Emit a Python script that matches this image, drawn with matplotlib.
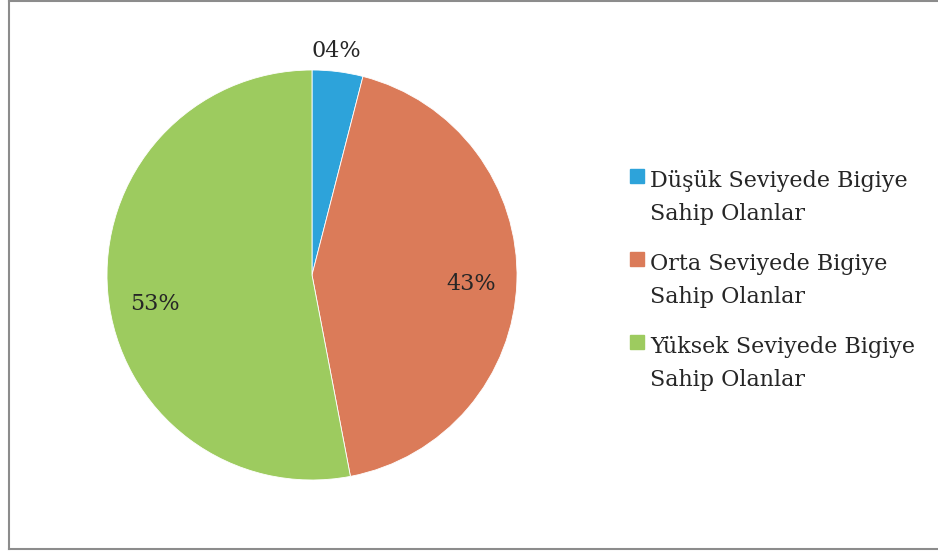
import matplotlib
matplotlib.use('Agg')
import matplotlib.pyplot as plt
import numpy as np
from matplotlib.patches import Rectangle
from matplotlib.lines import Line2D

labels = ['Düşük Seviyede Bigiye\nSahip Olanlar',
          'Orta Seviyede Bigiye\nSahip Olanlar',
          'Yüksek Seviyede Bigiye\nSahip Olanlar']
values = [4, 43, 53]
pct_text = ['04%', '43%', '53%']
colors = ['#2DA3DA', '#DB7B59', '#9DCB5F']

plt.rcParams['font.family'] = ['DejaVu Serif']
txt_color = '#262626'
fs = 16

W, H = 938, 551
fig = plt.figure(figsize=(W / 100, H / 100), dpi=100)

# pie centre ~ (312, 275) px, radius ~205 px
cx, cy, r = 312, 275, 205
ax = fig.add_axes([(cx - r) / W, (H - cy - r) / H, 2 * r / W, 2 * r / H])
wedges, _ = ax.pie(values, colors=colors, startangle=90, counterclock=False,
                   wedgeprops=dict(edgecolor='white', linewidth=0.6))
ax.set_xlim(-1, 1)
ax.set_ylim(-1, 1)
ax.set_aspect('equal')

# label radius and small angle nudge (deg) from each wedge's middle
dist = [1.10, 0.78, 0.78]
nudge = [0.9, -1.6, 4.9]
for w, t, d, n in zip(wedges, pct_text, dist, nudge):
    ang = np.deg2rad((w.theta1 + w.theta2) / 2 + n)
    ax.text(d * np.cos(ang), d * np.sin(ang), t, ha='center', va='center',
            fontsize=fs, color=txt_color, clip_on=False)

# legend drawn by hand
for i, (lab, c) in enumerate(zip(labels, colors)):
    top = 169 + 83 * i
    fig.patches.append(Rectangle((630 / W, 1 - (top + 14) / H), 14 / W, 14 / H,
                                 transform=fig.transFigure, color=c))
    for j, line in enumerate(lab.split('\n')):
        base = 187 + 83 * i + 33 * j
        fig.text(650 / W, 1 - base / H, line, ha='left', va='baseline',
                 fontsize=fs, color=txt_color)

# border
bc = '#8c8c8c'
fig.add_artist(Line2D([8.5 / W, 8.5 / W], [1 - 548.5 / H, 1], transform=fig.transFigure, color=bc, lw=1.5))
fig.add_artist(Line2D([8.5 / W, 1], [1 - 548.5 / H, 1 - 548.5 / H], transform=fig.transFigure, color=bc, lw=1.5))
fig.add_artist(Line2D([8.5 / W, 1], [1 - 0.8 / H, 1 - 0.8 / H], transform=fig.transFigure, color=bc, lw=1.5))

fig.savefig('out.png', dpi=100)
